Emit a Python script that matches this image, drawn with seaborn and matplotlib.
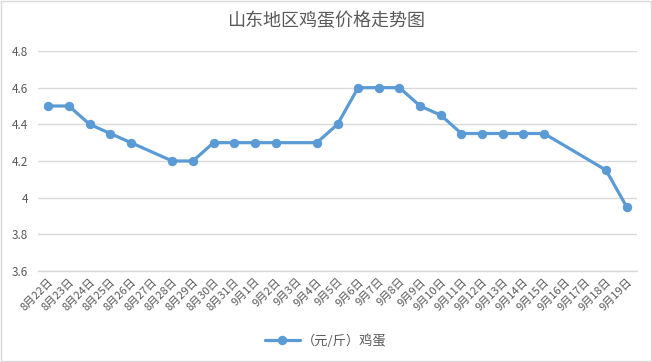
import numpy as np
import pandas as pd
import matplotlib
matplotlib.use('Agg')
import matplotlib.pyplot as plt
import seaborn as sns

# Dates on the x axis (category labels)
dates = ['8月22日', '8月23日', '8月24日', '8月25日', '8月26日', '8月27日', '8月28日',
         '8月29日', '8月30日', '8月31日', '9月1日', '9月2日', '9月3日', '9月4日',
         '9月5日', '9月6日', '9月7日', '9月8日', '9月9日', '9月10日', '9月11日',
         '9月12日', '9月13日', '9月14日', '9月15日', '9月16日', '9月17日', '9月18日',
         '9月19日']
# Egg price (yuan / jin); NaN = no quote that day
prices = [4.5, 4.5, 4.4, 4.35, 4.3, np.nan, 4.2,
          4.2, 4.3, 4.3, 4.3, 4.3, np.nan, 4.3,
          4.4, 4.6, 4.6, 4.6, 4.5, 4.45, 4.35,
          4.35, 4.35, 4.35, 4.35, np.nan, np.nan, 4.15,
          3.95]
series_name = '（元/斤）鸡蛋'
title = '山东地区鸡蛋价格走势图'

df = pd.DataFrame({'pos': np.arange(len(dates)), 'price': prices})
df = df.dropna()

sns.set_style('white')
plt.rcParams['font.family'] = ['Noto Sans CJK SC', 'DejaVu Sans']

text_color = '#595959'
grid_color = '#d9d9d9'
line_color = '#5b9bd5'

fig = plt.figure(figsize=(6.52, 3.62), dpi=100)
ax = fig.add_axes([38 / 652, 1 - 271 / 362, (637 - 38) / 652, (271 - 51) / 362])

sns.lineplot(data=df, x='pos', y='price', ax=ax, color=line_color, linewidth=2.3,
             marker='o', markersize=6, markeredgecolor=line_color,
             label=series_name, legend=False)

ax.set_xlim(-0.5, len(dates) - 0.5)
ax.set_ylim(3.6, 4.8)
ax.set_yticks(np.arange(3.6, 4.81, 0.2))
ax.set_yticklabels(['3.6', '3.8', '4', '4.2', '4.4', '4.6', '4.8'])
ax.yaxis.grid(True, color=grid_color, linewidth=1)
ax.set_axisbelow(True)

# category labels centred, tick marks on boundaries
ax.set_xticks(np.arange(len(dates)))
ax.set_xticklabels(dates, rotation=45, ha='right', va='top', rotation_mode='anchor')
ax.set_xticks(np.arange(-0.5, len(dates), 1), minor=True)
ax.tick_params(axis='x', which='major', length=0, pad=4, labelsize=8, colors=text_color)
ax.tick_params(axis='x', which='minor', length=5, width=1, color=grid_color, direction='out')
ax.tick_params(axis='y', length=0, pad=7, labelsize=8.5, colors=text_color)

for s in ['top', 'right', 'left']:
    ax.spines[s].set_visible(False)
ax.spines['bottom'].set_color(grid_color)
ax.spines['bottom'].set_linewidth(1)

ax.set_xlabel('')
ax.set_ylabel('')

fig.text(0.5, 1 - 21 / 362, title, ha='center', va='center', fontsize=13, color=text_color)

handles, labels = ax.get_legend_handles_labels()
fig.legend(handles, labels, loc='center', bbox_to_anchor=(0.5, 1 - 341 / 362),
           frameon=False, fontsize=9.5, labelcolor=text_color, handlelength=2.6,
           handletextpad=0.2)

# thin outer frame like the Excel chart area
fig.patches.append(plt.Rectangle((0.001, 0.002), 0.997, 0.996, transform=fig.transFigure,
                                 fill=False, edgecolor=grid_color, linewidth=1))

fig.savefig('out.png', dpi=100)
